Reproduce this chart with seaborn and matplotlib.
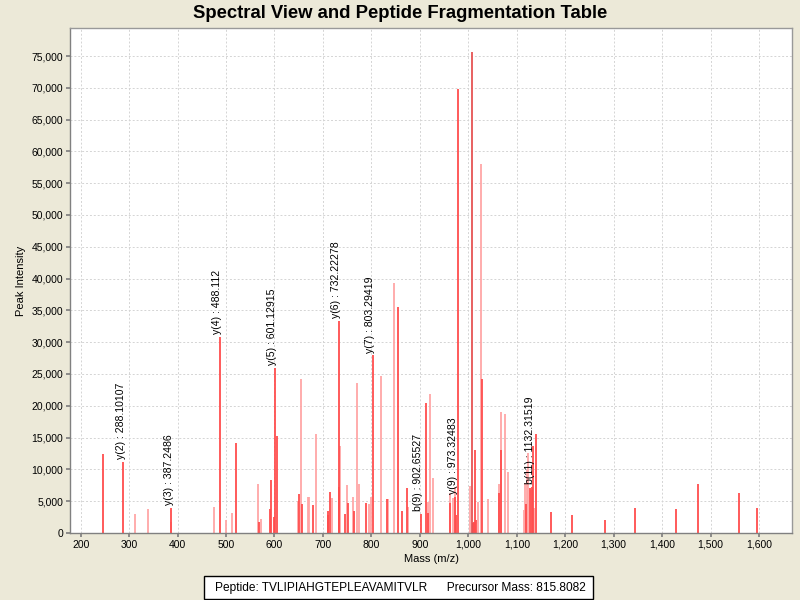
import pandas as pd
import seaborn as sns
import matplotlib.pyplot as plt
from matplotlib.patches import Rectangle
from matplotlib.ticker import FuncFormatter, MultipleLocator

# peak list: m/z, intensity, colour class
# r = strong (red), p = weak (pink), d = tallest peak (a bit darker)
mz = [246.5, 288.1, 311.7, 339.9, 385.8, 387.25, 474.3, 488.11, 500.4, 512.8,
      521.6, 566.3, 567.5, 573.0, 590.6, 592.0, 598.6, 601.13, 604.5, 648.5,
      651.3, 654.7, 656.0, 669.1, 671.5, 678.6, 685.6, 709.5, 711.0, 713.6,
      718.5, 732.22, 733.5, 735.6, 745.9, 749.4, 752.3, 763.0, 763.8, 769.9,
      774.7, 789.8, 795.5, 798.4, 803.29, 820.0, 833.0, 834.8, 846.3, 855.6,
      863.8, 874.1, 875.0, 902.66, 911.9, 916.0, 917.5, 920.5, 926.5, 961.4,
      962.5, 968.8, 971.6, 973.32, 975.0, 977.8, 1003.8, 1007.9, 1009.0, 1012.0,
      1014.2, 1015.5, 1019.0, 1027.2, 1028.4, 1041.6, 1062.8, 1063.5, 1067.5, 1068.2,
      1076.5, 1082.7, 1114.2, 1116.3, 1119.0, 1121.8, 1123.9, 1126.5, 1129.3, 1132.32,
      1133.4, 1135.5, 1139.6, 1170.5, 1213.0, 1283.0, 1343.0, 1427.6, 1475.0, 1559.0,
      1596.0]
intensity = [12370, 11200, 2940, 3820, 1730, 3980, 4060, 30860, 2100, 3100,
             14120, 7680, 1730, 2200, 3720, 8330, 2570, 25940, 15250, 4950,
             6080, 24210, 4600, 5630, 5630, 4400, 15560, 3440, 2850, 6500,
             5470, 33330, 7280, 13700, 3050, 7540, 4660, 5680, 3460, 23560,
             7700, 4740, 4600, 5700, 27930, 24680, 5300, 5300, 39250, 35570,
             3460, 7080, 4140, 2990, 20390, 4930, 3140, 21850, 8600, 4770,
             6240, 5450, 7280, 5700, 2830, 69850, 7390, 75560, 1520, 1800,
             13050, 2000, 4920, 58000, 24210, 5300, 6240, 7700, 19070, 13050,
             18700, 9540, 3620, 7810, 4560, 9900, 12530, 7030, 6760, 7280,
             13680, 3880, 15560, 3350, 2800, 2040, 3930, 3720, 7650, 6340,
             3980]
kind = list("rrppprprpp" "rprprrrrrp" "rprpprprrr" "prrprprprp" "prpprprppr"
            "rrprrprppr" "ppprrrpdrr" "rrpprprppr" "pppprpprpr" "rprrrrrrrr"
            "r")

ion_labels = ["y(2) : 288.10107", "y(3) : 387.2486", "y(4) : 488.112",
              "y(5) : 601.12915", "y(6) : 732.22278", "y(7) : 803.29419",
              "b(9) : 902.65527", "y(9) : 973.32483", "b(11) : 1132.31519"]
ion_mz = [288.1, 387.25, 488.11, 601.13, 732.22, 803.29, 902.66, 973.32, 1132.32]
ion_int = [11200, 3980, 30860, 25940, 33330, 27930, 2990, 5700, 7280]

peptide = "TVLIPIAHGTEPLEAVAMITVLR"
precursor_mass = "815.8082"

df = pd.DataFrame({"mz": mz, "intensity": intensity, "kind": kind})
palette = {"r": "#ff4d4d", "p": "#ffa6a6", "d": "#e65454"}

sns.set_theme(style="whitegrid")
plt.rcParams["font.family"] = ["Liberation Sans", "DejaVu Sans"]
plt.rcParams.update({"text.color": "black", "axes.labelcolor": "black",
                     "xtick.color": "black", "ytick.color": "black"})

fig = plt.figure(figsize=(8, 6), dpi=100, facecolor="#ece9d8")
ax = fig.add_axes([0.0875, 0.1117, 0.9025, 0.8416])
ax.set_facecolor("white")

# weak peaks first so the strong ones sit on top
for k in ["p", "r", "d"]:
    sub = df[df["kind"] == k]
    ax.vlines(sub["mz"], 0, sub["intensity"], colors=palette[k], linewidth=1.3)

for lab, x, y in zip(ion_labels, ion_mz, ion_int):
    ax.annotate(lab, (x, y), xytext=(-2, 2), textcoords="offset points",
                rotation=90, ha="center", va="bottom", fontsize=7.6, color="black")

ax.set_xlim(178, 1668)
ax.set_ylim(0, 79400)
ax.xaxis.set_major_locator(MultipleLocator(100))
ax.yaxis.set_major_locator(MultipleLocator(5000))
ax.xaxis.set_major_formatter(FuncFormatter(lambda v, p: f"{v:,.0f}"))
ax.yaxis.set_major_formatter(FuncFormatter(lambda v, p: f"{v:,.0f}"))
ax.grid(True, color="#d4d4d4", linestyle=(0, (2, 2)), linewidth=0.7)
ax.tick_params(axis="both", labelsize=7.5, length=3, color="#808080",
               labelcolor="black", pad=2, direction="out", bottom=True, left=True)
for s in ax.spines.values():
    s.set_color("#999999")
    s.set_linewidth(1)
ax.spines["left"].set_color("#808080")
ax.spines["bottom"].set_color("#808080")

ax.set_xlabel("Mass (m/z)", fontsize=8, labelpad=3)
ax.set_ylabel("Peak Intensity", fontsize=8, labelpad=4)
fig.text(0.5, 0.978, "Spectral View and Peptide Fragmentation Table",
         ha="center", va="center", fontsize=13.3, fontweight="bold", color="black")

# peptide box under the plot
fig.patches.append(Rectangle((204 / 800, 1 / 600), 389 / 800, 23 / 600,
                             transform=fig.transFigure, facecolor="white",
                             edgecolor="black", linewidth=1))
fig.text(0.5, 1 - 587.5 / 600,
         f"Peptide: {peptide}      Precursor Mass: {precursor_mass}",
         ha="center", va="center", fontsize=8.6, color="black")

fig.savefig("out.png", dpi=100, facecolor=fig.get_facecolor())
